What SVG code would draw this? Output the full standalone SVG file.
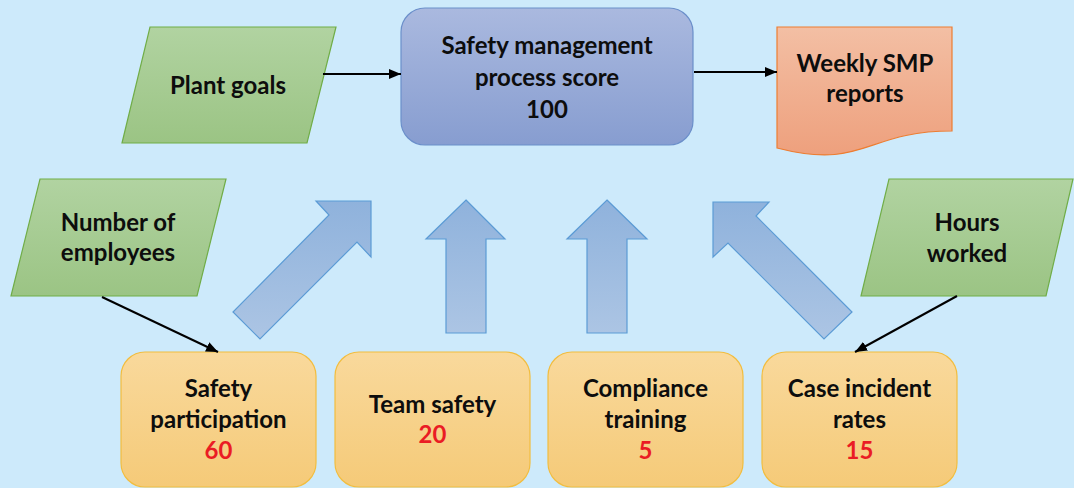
<svg xmlns="http://www.w3.org/2000/svg" width="1074" height="488" viewBox="0 0 1074 488">
  <defs>
    <linearGradient id="gGreen" x1="0" y1="0" x2="0" y2="1">
      <stop offset="0" stop-color="#b1d3a1"/>
      <stop offset="1" stop-color="#9bc484"/>
    </linearGradient>
    <linearGradient id="gBlue" x1="0" y1="0" x2="0" y2="1">
      <stop offset="0" stop-color="#aab9df"/>
      <stop offset="1" stop-color="#879dd0"/>
    </linearGradient>
    <linearGradient id="gOrange" x1="0" y1="0" x2="0" y2="1">
      <stop offset="0" stop-color="#f3bfa4"/>
      <stop offset="1" stop-color="#eea07d"/>
    </linearGradient>
    <linearGradient id="gGold" x1="0" y1="0" x2="0" y2="1">
      <stop offset="0" stop-color="#f9d99c"/>
      <stop offset="1" stop-color="#f5ca78"/>
    </linearGradient>
    <linearGradient id="gArrow" x1="0" y1="0" x2="0" y2="1">
      <stop offset="0" stop-color="#8fb2dc"/>
      <stop offset="1" stop-color="#acc5e4"/>
    </linearGradient>
    <marker id="head" viewBox="0 0 12 10" refX="12" refY="5" markerWidth="12" markerHeight="10" markerUnits="userSpaceOnUse" orient="auto">
      <path d="M0,0 L12,5 L0,10 z" fill="#000"/>
    </marker>
  </defs>
  <style>
    .lbl { font-family: Lato, "Liberation Sans", sans-serif; font-weight: bold; font-size: 24px; fill: #0d0d0d; text-anchor: middle; }
    .num { fill: #ea1c24; }
    .input { fill: url(#gGreen); stroke: #70ad47; stroke-width: 1.2; }
    .metric { fill: url(#gGold); stroke: #f2bd3f; stroke-width: 1.2; }
    .flow { fill: url(#gArrow); stroke: #5b9bd5; stroke-width: 1.2; }
    .link { stroke: #000; stroke-width: 2; fill: none; marker-end: url(#head); }
  </style>

  <rect width="1074" height="488" fill="#cdeafb"/>

  <!-- block arrows feeding the score -->
  <g id="flows">
    <polygon class="flow" points="316,201 371,201 371,257 357,242 260,339 233,312 329,215"/>
    <polygon class="flow" points="466,200 505,239 486,239 486,333 446,333 446,239 426,239"/>
    <polygon class="flow" points="607,200 647,239 627,239 627,333 587,333 587,239 567,239"/>
    <polygon class="flow" points="713,202 769,202 756,216 852,312 824,339 728,243 713,257"/>
  </g>

  <g id="plant-goals">
    <polygon class="input" points="150,27 336,27 307,143 122,143"/>
    <text class="lbl" x="228" y="94">Plant goals</text>
  </g>

  <g id="smp-score">
    <rect x="401" y="8" width="292" height="137" rx="24" fill="url(#gBlue)" stroke="#6b8fca" stroke-width="1.2"/>
    <text class="lbl" x="547" y="54">Safety management</text>
    <text class="lbl" x="547" y="86">process score</text>
    <text class="lbl" x="547" y="118">100</text>
  </g>

  <g id="weekly-reports">
    <path d="M777,27 H952 V131 C864.5,131 864.5,170.6 777,148 Z" fill="url(#gOrange)" stroke="#ed7d31" stroke-width="1.2"/>
    <text class="lbl" x="865" y="72">Weekly SMP</text>
    <text class="lbl" x="865" y="102">reports</text>
  </g>

  <g id="employees">
    <polygon class="input" points="40,179 226,179 197,296 11,296"/>
    <text class="lbl" x="118" y="231">Number of</text>
    <text class="lbl" x="118" y="261">employees</text>
  </g>

  <g id="hours-worked">
    <polygon class="input" points="889,179 1073,179 1046,296 861,296"/>
    <text class="lbl" x="967" y="231">Hours</text>
    <text class="lbl" x="967" y="262">worked</text>
  </g>

  <g id="safety-participation">
    <rect class="metric" x="121" y="352" width="195" height="135" rx="24"/>
    <text class="lbl" x="218.5" y="397">Safety</text>
    <text class="lbl" x="218.5" y="428">participation</text>
    <text class="lbl num" x="218.5" y="459">60</text>
  </g>

  <g id="team-safety">
    <rect class="metric" x="335" y="352" width="195" height="135" rx="24"/>
    <text class="lbl" x="432.5" y="413">Team safety</text>
    <text class="lbl num" x="432.5" y="443">20</text>
  </g>

  <g id="compliance-training">
    <rect class="metric" x="548" y="352" width="195" height="135" rx="24"/>
    <text class="lbl" x="645.5" y="397">Compliance</text>
    <text class="lbl" x="645.5" y="428">training</text>
    <text class="lbl num" x="645.5" y="459">5</text>
  </g>

  <g id="case-incident-rates">
    <rect class="metric" x="762" y="352" width="195" height="135" rx="24"/>
    <text class="lbl" x="859.5" y="397">Case incident</text>
    <text class="lbl" x="859.5" y="428">rates</text>
    <text class="lbl num" x="859.5" y="459">15</text>
  </g>

  <g id="connectors">
    <line class="link" x1="323" y1="74" x2="401" y2="74"/>
    <line class="link" x1="694" y1="72" x2="777" y2="72"/>
    <line class="link" x1="102" y1="297" x2="218" y2="352"/>
    <line class="link" x1="957" y1="296" x2="855" y2="352"/>
  </g>
</svg>
